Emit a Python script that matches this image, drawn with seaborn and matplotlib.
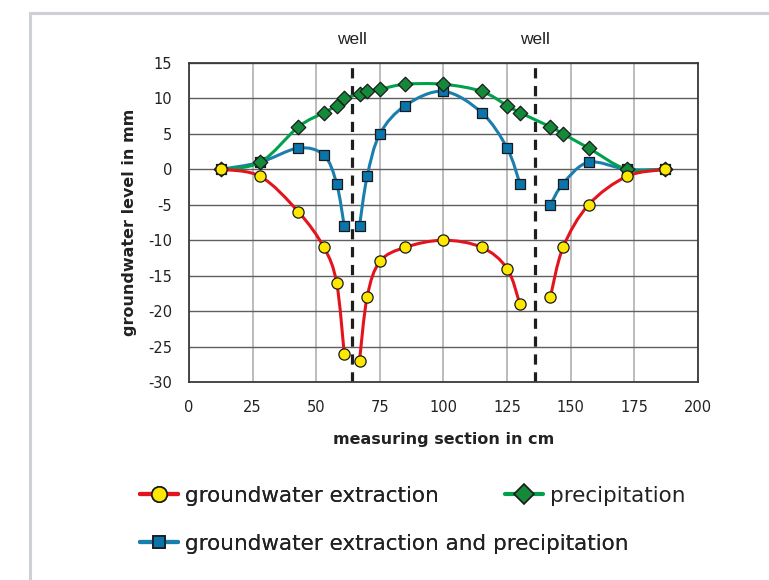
import numpy as np
import pandas as pd
import seaborn as sns
import matplotlib.pyplot as plt
from matplotlib.path import Path
from matplotlib.patches import PathPatch, Rectangle
from matplotlib.lines import Line2D

# values
section_cm = [12.5, 28, 43, 53, 58, 61, 67, 70, 75, 85, 100, 115, 125, 130, 142, 147, 157, 172, 187]
extraction = [0, -1, -6, -11, -16, -26, -27, -18, -13, -11, -10, -11, -14, -19, -18, -11, -5, -1, 0]
precipitation = [0, 1, 6, 8, 9, 10, 10.6, 11, 11.3, 12, 12, 11, 9, 8, 6, 5, 3, 0, 0]
combined = [0, 1, 3, 2, -2, -8, -8, -1, 5, 9, 11, 8, 3, -2, -5, -2, 1, 0, 0]
wells = [64, 136]
x_ticks = [0, 25, 50, 75, 100, 125, 150, 175, 200]
y_ticks = [-30, -25, -20, -15, -10, -5, 0, 5, 10, 15]

RED, YELLOW = "#e4141e", "#ffe800"
GREEN, GREEN_M = "#00a04c", "#14893a"
BLUE, BLUE_M = "#1b7fae", "#0b74aa"


def smooth_path(xs, ys):
    # excel-like smoothed line (catmull-rom as cubic bezier)
    pts = np.column_stack([xs, ys]).astype(float)
    n = len(pts)
    verts, codes = [pts[0]], [Path.MOVETO]
    for i in range(n - 1):
        p0, p1 = pts[max(i - 1, 0)], pts[i]
        p2, p3 = pts[i + 1], pts[min(i + 2, n - 1)]
        verts += [p1 + (p2 - p0) / 6, p2 - (p3 - p1) / 6, p2]
        codes += [Path.CURVE4] * 3
    return Path(verts, codes)


def split_at_wells(xs, ys):
    parts, start = [], 0
    for i in range(len(xs) - 1):
        if any(xs[i] < w < xs[i + 1] for w in wells):
            parts.append((xs[start:i + 1], ys[start:i + 1]))
            start = i + 1
    parts.append((xs[start:], ys[start:]))
    return parts


def main():
    sns.set_style("white")
    plt.rcParams["font.family"] = ["DejaVu Sans"]
    plt.rcParams["axes.unicode_minus"] = False

    df = pd.DataFrame({"x": section_cm, "extraction": extraction,
                       "precipitation": precipitation, "combined": combined})

    fig = plt.figure(figsize=(7.69, 5.80), dpi=100)
    ax = fig.add_axes([189 / 769, 1 - 382 / 580, (698 - 189) / 769, (382 - 63) / 580])

    series = [
        ("combined", BLUE, BLUE_M, "s", 55, True, 3),
        ("precipitation", GREEN, GREEN_M, "D", 55, False, 4),
        ("extraction", RED, YELLOW, "o", 65, True, 5),
    ]
    for col, lc, mc, mk, size, broken, z in series:
        parts = split_at_wells(section_cm, df[col].tolist()) if broken else [(section_cm, df[col].tolist())]
        for xs, ys in parts:
            ax.add_patch(PathPatch(smooth_path(xs, ys), facecolor="none", edgecolor=lc,
                                   lw=2.2, zorder=z, capstyle="round"))
        sns.scatterplot(data=df, x="x", y=col, ax=ax, marker=mk, s=size, color=mc,
                        edgecolor="#1a1a1a", linewidth=0.9, zorder=z + 0.5, legend=False)

    for w in wells:
        ax.axvline(w, color="#1e1e1e", lw=2.3, ls=(0, (3.2, 2.4)), zorder=2.5)
        ax.text(w, 1.075, "well", transform=ax.get_xaxis_transform(), ha="center", va="center",
                fontsize=12.5, family=["Liberation Sans"], color="#222222")

    ax.set_xlim(0, 200)
    ax.set_ylim(-30, 15)
    ax.set_xticks(x_ticks)
    ax.set_yticks(y_ticks)
    ax.set_axisbelow(True)
    ax.xaxis.grid(True, color="#a9a9a9", lw=1.1)
    ax.yaxis.grid(True, color="#5e5e5e", lw=1.0)
    for s in ax.spines.values():
        s.set_color("#3a3a3a")
        s.set_linewidth(1.3)
    ax.tick_params(axis="both", direction="out", length=5, width=1.3, color="#222222",
                   labelsize=10.5, labelcolor="#222222", pad=7)
    ax.tick_params(axis="x", pad=8)
    ax.set_xlabel("measuring section in cm", fontsize=11.5, fontweight="bold", labelpad=12.5, color="#222222")
    ax.set_ylabel("groundwater level in mm", fontsize=11.5, fontweight="bold", labelpad=8, color="#222222")

    h_ext = Line2D([], [], color=RED, lw=3, marker="o", markersize=11, markerfacecolor=YELLOW,
                   markeredgecolor="#1a1a1a", markeredgewidth=1.2)
    h_pre = Line2D([], [], color=GREEN, lw=3, marker="D", markersize=10, markerfacecolor=GREEN_M,
                   markeredgecolor="#1a1a1a", markeredgewidth=1.2)
    h_com = Line2D([], [], color=BLUE, lw=3, marker="s", markersize=9, markerfacecolor=BLUE_M,
                   markeredgecolor="#1a1a1a", markeredgewidth=1.2)
    leg_kw = dict(frameon=False, fontsize=15.5, handlelength=1.75, handletextpad=0.35,
                  labelspacing=1.28, borderpad=0, borderaxespad=0, loc="upper left",
                  labelcolor="#222222")
    leg1 = fig.legend([h_ext, h_com], ["groundwater extraction", "groundwater extraction and precipitation"],
                      bbox_to_anchor=(140 / 769, 1 - 486 / 580), **leg_kw)
    fig.legend([h_pre], ["precipitation"], bbox_to_anchor=(505 / 769, 1 - 486 / 580), **leg_kw)
    fig.add_artist(leg1)

    fig.add_artist(Rectangle((30 / 769, -0.1), 1.0, 1.1 - 13 / 580, transform=fig.transFigure,
                             fill=False, edgecolor="#cdd0d4", lw=2.2))

    fig.savefig("out.png", dpi=100)


if __name__ == "__main__":
    main()
